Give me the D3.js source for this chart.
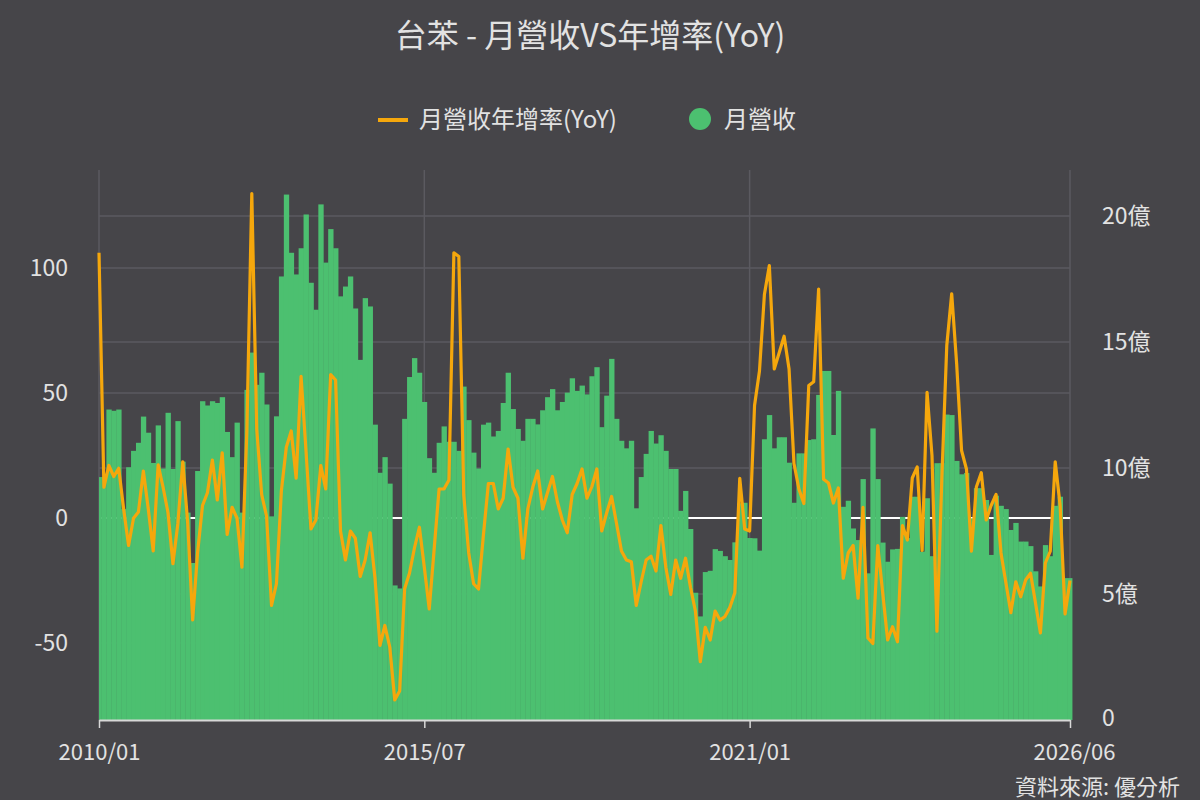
<!DOCTYPE html>
<html>
<head>
<meta charset="utf-8">
<script src="https://cdn.jsdelivr.net/npm/d3@7"></script>
<style>
  body { margin: 0; background: #464549; }
  svg { display: block; }
  text { font-family: "Noto Sans CJK TC", "Noto Sans", sans-serif; fill: #e2e2e2; }
</style>
</head>
<body>
<div id="chart"></div>
<script>
// monthly revenue (億) and YoY (%), 2010/01 .. 2026/06
const revenue = [
  9.64, 9.64, 12.32, 12.27, 12.32, 8.37, 10.03, 10.68, 11.00, 12.04, 11.40, 10.20,
  11.69, 9.98, 12.19, 9.96, 11.86, 10.25, 8.23, 6.23, 9.88, 12.65, 12.48, 12.65,
  12.58, 12.81, 11.43, 10.43, 11.80, 8.23, 13.10, 14.58, 13.30, 13.78, 12.52, 8.08,
  12.05, 17.60, 20.85, 18.54, 17.68, 18.72, 20.06, 17.35, 16.28, 20.46, 18.15, 19.48,
  18.72, 16.81, 17.20, 17.60, 16.33, 14.29, 16.74, 16.41, 11.72, 9.81, 10.43, 9.38,
  5.34, 5.22, 11.95, 13.61, 14.36, 13.78, 12.62, 10.39, 9.81, 11.00, 11.65, 11.04,
  11.04, 10.68, 13.23, 11.90, 10.61, 9.98, 11.72, 11.80, 11.25, 11.47, 12.58, 13.78,
  12.34, 11.55, 11.08, 11.95, 11.95, 11.73, 12.29, 12.81, 13.13, 12.29, 12.62, 12.99,
  13.56, 13.06, 13.27, 12.92, 13.64, 14.00, 11.62, 12.87, 14.33, 11.95, 11.08, 10.78,
  11.08, 8.40, 9.64, 10.56, 11.47, 10.97, 11.30, 10.68, 9.96, 9.96, 8.30, 9.09,
  7.58, 5.05, 4.11, 5.87, 5.92, 6.78, 6.71, 6.50, 6.35, 7.05, 8.60, 8.62,
  7.22, 7.21, 6.72, 11.14, 12.10, 10.78, 11.22, 11.22, 10.21, 8.62, 10.58, 10.58,
  11.11, 11.14, 12.90, 13.85, 13.85, 11.31, 13.06, 8.46, 8.70, 7.60, 7.14, 9.56,
  5.82, 11.57, 9.56, 7.04, 6.28, 6.77, 6.79, 8.06, 7.22, 8.86, 8.86, 6.68,
  8.80, 6.50, 10.19, 10.19, 12.12, 12.10, 10.28, 9.75, 9.80, 8.00, 9.20, 9.20,
  8.73, 6.55, 8.90, 8.50, 8.37, 7.54, 7.82, 7.08, 7.08, 6.90, 5.90, 5.30,
  6.94, 6.50, 8.50, 8.86, 5.63, 5.63
];
const yoy = [
  106.1, 12.3, 21.0, 16.6, 19.9, 3.6, -11.0, -0.1, 2.4, 18.8, 3.6, -13.2,
  21.3, 12.3, 2.1, -18.3, -2.2, 22.5, -2.2, -40.8, -13.9, 5.0, 10.1, 23.2,
  7.2, 26.1, -6.6, 4.3, -0.1, -19.7, 35.0, 129.8, 35.6, 9.4, 0.7, -35.0,
  -26.3, 10.8, 28.3, 34.8, 15.9, 56.7, 26.8, -4.4, -0.8, 21.0, 11.6, 57.4,
  55.2, -5.2, -16.8, -5.2, -8.1, -23.4, -16.8, -5.9, -24.1, -51.0, -43.0, -51.7,
  -72.8, -69.2, -28.4, -22.0, -12.0, -3.7, -19.7, -36.4, -12.4, 11.6, 11.6, 15.2,
  106.1, 104.6, 9.4, -13.9, -26.3, -28.4, -6.6, 13.8, 13.8, 3.6, 7.9, 27.6,
  12.3, 7.9, -16.1, 3.6, 12.3, 18.8, 3.6, 10.2, 16.6, 6.5, -0.8, -5.9,
  9.4, 13.8, 19.6, 7.9, 12.6, 19.6, -5.2, 2.1, 8.6, -2.2, -13.2, -16.8,
  -17.5, -35.0, -25.5, -16.8, -15.3, -21.2, -3.0, -19.7, -30.6, -16.8, -24.1, -16.1,
  -27.7, -37.2, -57.5, -43.7, -48.8, -37.2, -40.8, -39.4, -35.7, -29.9, 15.9, -4.4,
  -5.2, 45.0, 58.8, 89.4, 101.0, 59.6, 66.1, 72.7, 59.6, 21.8, 11.6, 5.8,
  53.0, 54.5, 91.6, 15.5, 14.0, 6.0, 12.0, -24.1, -14.0, -11.0, -32.1, 4.3,
  -48.0, -50.2, -11.0, -29.9, -48.8, -43.5, -49.5, -3.0, -8.8, 16.0, 20.4, -13.0,
  50.3, 25.0, -45.3, 16.0, 69.0, 89.7, 61.8, 27.0, 19.5, -13.3, 12.4, 18.1,
  -0.8, 5.0, 9.4, -14.0, -26.0, -37.9, -25.5, -31.5, -24.8, -22.1, -34.0, -46.0,
  -18.0, -13.3, 22.5, 5.0, -38.4, -25.0
];
const months = d3.range(revenue.length).map(i => {
  const y = 2010 + Math.floor(i / 12), m = (i % 12) + 1;
  return `${y}/${String(m).padStart(2, "0")}`;
});
const xTicks = ["2010/01", "2015/07", "2021/01", "2026/06"];
const yoyTicks = [-50, 0, 50, 100];
const revTicks = [0, 5, 10, 15, 20];

const W = 1200, H = 800;
const L = 99, R = 1070, T = 170, B = 720;
const FONT = '"Noto Sans CJK TC", "Noto Sans", sans-serif';

const svg = d3.select("#chart").append("svg").attr("width", W).attr("height", H);
svg.append("rect").attr("width", W).attr("height", H).attr("fill", "#464549");

const x = d3.scalePoint().domain(months).range([L, R]);
const step = x.step();
const yL = d3.scaleLinear().domain([-80.8, 139.2]).range([B, T]);
const yR = d3.scaleLinear().domain([0, 21.825]).range([B, T]);

// title + legend
svg.append("text").attr("x", 590).attr("y", 47).attr("text-anchor", "middle")
  .attr("font-size", 32).text("台苯 - 月營收VS年增率(YoY)");
const lg = svg.append("g");
lg.append("line").attr("x1", 378).attr("x2", 408).attr("y1", 120).attr("y2", 120)
  .attr("stroke", "#f5a70c").attr("stroke-width", 4);
lg.append("text").attr("x", 419).attr("y", 128).attr("font-size", 24).text("月營收年增率(YoY)");
lg.append("circle").attr("cx", 700).attr("cy", 119).attr("r", 11).attr("fill", "#4cc070");
lg.append("text").attr("x", 724).attr("y", 128).attr("font-size", 24).text("月營收");

// grid
const grid = svg.append("g");
grid.selectAll(".gy").data(yoyTicks.filter(d => d !== 0)).join("line")
  .attr("x1", L).attr("x2", R).attr("y1", d => yL(d)).attr("y2", d => yL(d))
  .attr("stroke", "#5b5a60").attr("stroke-width", 1.5);
grid.selectAll(".gr").data(revTicks.filter(d => d !== 0)).join("line")
  .attr("x1", L).attr("x2", R).attr("y1", d => yR(d)).attr("y2", d => yR(d))
  .attr("stroke", "#5b5a60").attr("stroke-width", 1.5);
grid.selectAll(".gx").data(xTicks).join("line")
  .attr("x1", d => x(d)).attr("x2", d => x(d)).attr("y1", T).attr("y2", B)
  .attr("stroke", "#5b5a60").attr("stroke-width", 1.5);
grid.append("line").attr("x1", L).attr("x2", R).attr("y1", yL(0)).attr("y2", yL(0))
  .attr("stroke", "#ffffff").attr("stroke-width", 2);

// bars
svg.append("clipPath").attr("id", "clip").append("rect")
  .attr("x", L).attr("y", T - 10).attr("width", R - L + 2.5).attr("height", B - T + 10);
svg.append("g").attr("clip-path", "url(#clip)")
  .selectAll("rect").data(revenue).join("rect")
  .attr("x", (d, i) => x(months[i]) - step / 2)
  .attr("width", step + 0.4)
  .attr("y", d => yR(d))
  .attr("height", d => B - yR(d))
  .attr("fill", "#4cc070");

// yoy line
svg.append("path").datum(yoy)
  .attr("fill", "none").attr("stroke", "#f5a70c").attr("stroke-width", 3.2)
  .attr("stroke-linejoin", "round")
  .attr("d", d3.line().x((d, i) => x(months[i])).y(d => yL(d)));

// axes
const xAxis = svg.append("g").attr("transform", `translate(0,${B})`)
  .call(d3.axisBottom(x).tickValues(xTicks).tickSize(8).tickPadding(16).tickSizeOuter(0));
xAxis.select(".domain").attr("stroke", "#d8d8d8").attr("stroke-width", 2);
xAxis.selectAll(".tick line").attr("stroke", "#d8d8d8").attr("stroke-width", 1.5);
xAxis.selectAll("text").attr("font-size", 22).attr("fill", "#e2e2e2").attr("font-family", FONT);
xAxis.selectAll(".tick:last-of-type text").attr("dx", 4);

const lAxis = svg.append("g").attr("transform", `translate(${L},0)`)
  .call(d3.axisLeft(yL).tickValues(yoyTicks).tickSize(0).tickFormat(d => String(d)));
lAxis.select(".domain").remove();
lAxis.selectAll("text").attr("x", -31).attr("text-anchor", "end")
  .attr("font-size", 23).attr("fill", "#e2e2e2").attr("font-family", FONT);

const rAxis = svg.append("g").attr("transform", `translate(${R},0)`)
  .call(d3.axisRight(yR).tickValues(revTicks).tickSize(0)
    .tickFormat(d => d === 0 ? "0" : d + "億"));
rAxis.select(".domain").remove();
rAxis.selectAll("text").attr("x", 32).attr("text-anchor", "start")
  .attr("font-size", 23).attr("fill", "#e2e2e2").attr("font-family", FONT);
rAxis.selectAll(".tick:first-of-type text").attr("dy", "0.25em");

svg.append("text").attr("x", 1180).attr("y", 795).attr("text-anchor", "end")
  .attr("font-size", 22).text("資料來源: 優分析");
</script>
</body>
</html>
